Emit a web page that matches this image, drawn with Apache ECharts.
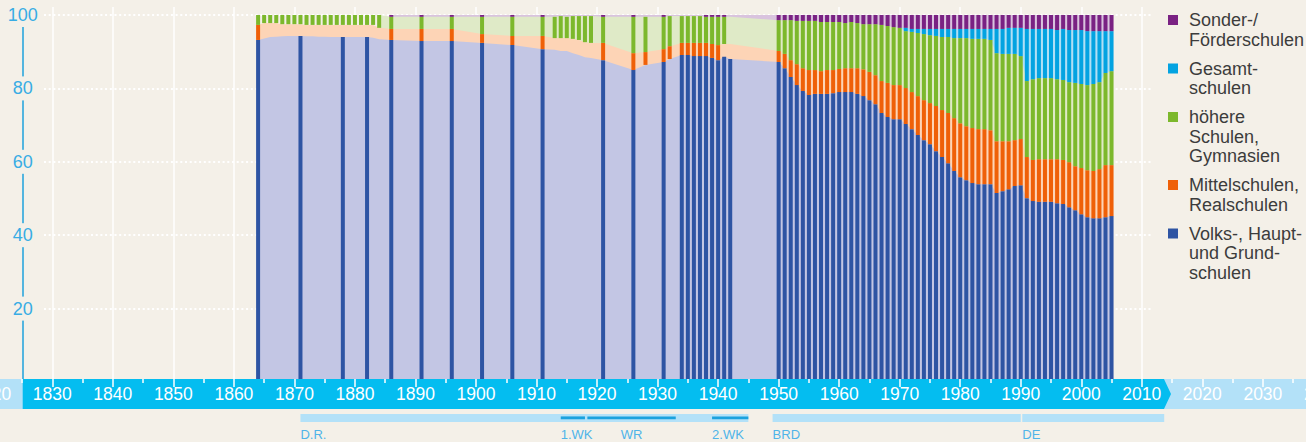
<!DOCTYPE html>
<html lang="de">
<head>
<meta charset="utf-8">
<title>Schüler nach Schularten</title>
<script src="https://cdn.jsdelivr.net/npm/echarts@6.0.0/dist/echarts.min.js"></script>
<style>
html,body{margin:0;padding:0;background:#f4f0e8;overflow:hidden;}
#chart{width:1306px;height:442px;}
</style>
</head>
<body>
<div id="chart"></div>
<script>
// ---------------- data (percent of pupils by school type) ----------------
const annualYears = [1950,1951,1952,1953,1954,1955,1956,1957,1958,1959,1960,1961,1962,1963,1964,1965,1966,1967,1968,1969,
  1970,1971,1972,1973,1974,1975,1976,1977,1978,1979,1980,1981,1982,1983,1984,1985,1986,1987,1988,1989,
  1990,1991,1992,1993,1994,1995,1996,1997,1998,1999,2000,2001,2002,2003,2004,2005];
const earlyYears = [1864,1865,1866,1867,1868,1869,1870,1871,1872,1873,1874,1875,1876,1877,1878,1879,1880,1881,1882,1883,1884,
  1886,1891,1896,1901,1906,1911,
  1913,1914,1915,1916,1917,1918,1919,
  1921,1926,1928,1931,1932,
  1934,1935,1936,1937,1938,1939,1940,1941,1942];
const years = earlyYears.concat(annualYears);

const volks = [
  93.2,93.6,94.0,94.1,94.2,94.3,94.3,94.3,94.2,94.2,94.1,94.1,94.0,94.0,94.0,94.0,94.0,94.0,94.0,93.8,93.4,
  93.2,92.9,92.9,92.4,91.8,90.7,
  90.5,90.2,90.2,89.6,89.1,88.5,88.3,
  87.7,85.0,86.4,87.2,88.0,
  89.1,89.1,88.8,88.8,88.8,88.3,87.7,88.6,88.0,
  87.2,85.5,83.1,80.9,79.3,78.2,78.5,78.5,78.5,78.7,
  79.0,79.0,79.0,78.5,77.9,76.8,75.7,73.3,72.2,71.6,
  71.6,70.3,68.9,67.3,65.9,64.8,62.9,61.3,59.6,57.5,
  55.8,55.0,54.2,53.9,53.9,53.9,51.5,52.0,52.5,53.4,
  53.6,50.1,49.3,49.1,49.1,49.1,48.7,48.5,47.6,46.8,
  45.7,44.9,44.6,44.6,44.9,45.2];
const mittel = [
  4.1,4.2,3.8,3.7,3.3,3.2,3.2,3.2,3.1,3.1,3.2,3.2,3.3,3.3,3.3,3.3,3.3,3.3,3.3,3.5,3.1,
  3.0,3.3,3.3,2.4,2.5,3.6,
  3.2,3.5,3.5,3.9,4.1,4.1,4.1,
  4.7,4.6,3.5,3.5,3.5,
  3.3,3.3,3.6,3.6,3.6,3.8,4.1,3.5,4.1,
  3.0,3.9,4.6,5.7,6.2,6.8,6.5,6.2,6.5,6.3,
  6.3,6.5,6.5,7.0,7.3,7.7,7.9,8.7,9.3,9.3,
  9.3,9.8,10.1,10.6,10.9,11.2,12.3,12.8,13.7,14.4,
  14.7,14.7,15.0,15.0,15.0,14.7,14.1,13.6,13.1,12.5,
  12.6,11.2,11.2,11.6,11.6,11.6,12.0,12.0,12.3,12.0,
  12.6,12.8,12.9,13.4,14.2,13.9];
const hoehere = [
  2.7,2.2,2.2,2.2,2.5,2.5,2.5,2.5,2.7,2.7,2.7,2.7,2.7,2.7,2.7,2.7,2.7,2.7,2.7,2.7,3.5,
  3.3,3.3,3.3,4.7,5.2,5.2,
  5.8,6.0,5.8,6.2,6.5,7.1,7.3,
  7.1,9.9,9.6,8.8,8.2,
  7.3,7.3,7.3,7.3,7.1,7.4,7.7,7.4,7.4,
  8.4,9.2,10.9,11.8,12.9,13.4,13.4,13.4,13.1,13.1,
  12.8,12.3,12.6,12.3,12.3,13.0,13.9,15.3,15.5,15.8,
  15.6,15.5,16.4,17.2,18.0,18.5,19.1,19.9,20.7,21.8,
  23.2,24.0,24.3,24.6,24.6,24.6,24.0,23.8,23.8,23.5,
  22.6,20.7,22.0,22.1,22.1,22.1,21.8,21.8,21.8,22.7,
  22.9,23.2,23.7,23.7,25.1,25.6];
const gesamt = [
  0,0,0,0,0,0,0,0,0,0,0,0,0,0,0,0,0,0,0,0,0,
  0,0,0,0,0,0,
  0,0,0,0,0,0,0,
  0,0,0,0,0,
  0,0,0,0,0,0,0,0,0,
  0,0,0,0,0,0,0,0,0,0,
  0,0,0,0,0,0,0,0,0,0,
  0,0.9,0.8,1.1,1.4,1.7,1.9,2.2,2.2,2.5,
  2.5,2.5,2.7,2.7,2.7,3.0,6.6,6.8,7.1,7.1,
  7.7,14.2,13.7,13.4,13.4,13.4,13.4,13.9,14.2,14.4,
  14.7,14.7,14.4,13.9,11.4,10.9];
const sonder = [
  0,0,0,0,0,0,0,0,0,0,0,0,0,0,0,0,0,0,0,0,0,
  0.5,0.5,0.5,0.5,0.5,0.5,
  0.5,0.3,0.5,0.3,0.3,0.3,0.3,
  0.5,0.5,0.5,0.5,0.3,
  0.3,0.3,0.3,0.3,0.5,0.5,0.5,0.5,0.5,
  1.4,1.4,1.4,1.6,1.6,1.6,1.6,1.9,1.9,1.9,
  1.9,2.2,1.9,2.2,2.5,2.5,2.5,2.7,3.0,3.3,
  3.5,3.5,3.8,3.8,3.8,3.8,3.8,3.8,3.8,3.8,
  3.8,3.8,3.8,3.8,3.8,3.8,3.8,3.8,3.5,3.5,
  3.5,3.8,3.8,3.8,3.8,3.8,4.1,3.8,4.1,4.1,
  4.1,4.4,4.4,4.4,4.4,4.4];

// years for which a survey value exists (drawn as solid bars); other years are estimates
const volksBarYears = [1864,1871,1878,1882,1886,1891,1896,1901,1906,1911,1921,1926,1931,
  1934,1935,1936,1937,1938,1939,1940,1941,1942].concat(annualYears);
const mittelBarYears = [1864,1886,1891,1896,1901,1906,1911,1921,1926,1928,1931,1932,
  1934,1935,1936,1937,1938,1939,1940].concat(annualYears);
const hoehereBarYears = [1864,1865,1866,1867,1868,1869,1870,1871,1872,1873,1874,1875,1876,1877,1878,1879,1880,1881,1882,1883,1884,
  1886,1891,1896,1901,1906,1911,1913,1914,1915,1916,1917,1918,1919,1921,1926,1928,1931,1932,
  1934,1935,1936,1937,1938,1939,1940,1941].concat(annualYears);
const gesamtBarYears = [1971,1972,1973,1974,1975,1976,1977,1978,1979,1980,1981,1982,1983,1984,1985,1986,1987,1988,1989,
  1990,1991,1992,1993,1994,1995,1996,1997,1998,1999,2000,2001,2002,2003,2004,2005];
const sonderBarYears = [1886,1891,1896,1901,1906,1911,1921,1926,1931,1938,1939,1940,1941].concat(annualYears);

// first year of the shaded estimate area per school type
const estimateStart = [1864, 1864, 1884, 1970, 1886];

// historical periods under the time axis
const periodNames = ['D.R.', '1.WK', 'WR', '2.WK', 'BRD', 'DE'];
const periodStart = [1871, 1914, 1918.4, 1939, 1949, 1990.25];
const periodEnd   = [1945, 1918, 1933, 1945, 1990, 2013.7];
const periodKind  = ['state', 'war', 'war', 'war', 'state', 'state'];
const periodAlign = ['left', 'left', 'center', 'left', 'left', 'left'];

const legendLabels = ['Volks-, Haupt-\nund Grund-\nschulen', 'Mittelschulen,\nRealschulen',
  'höhere\nSchulen,\nGymnasien', 'Gesamt-\nschulen', 'Sonder-/\nFörderschulen'];

// ---------------- styling ----------------
const cats = [
  {name: 'Volks-, Haupt- und Grundschulen', values: volks,   bars: volksBarYears,   color: '#2e54a3', pale: '#c3c6e4'},
  {name: 'Mittelschulen, Realschulen',      values: mittel,  bars: mittelBarYears,  color: '#ef6008', pale: '#fdd4b6'},
  {name: 'höhere Schulen, Gymnasien',       values: hoehere, bars: hoehereBarYears, color: '#7cb82c', pale: '#dfeac7'},
  {name: 'Gesamtschulen',                   values: gesamt,  bars: gesamtBarYears,  color: '#03a3e1', pale: '#b1dff5'},
  {name: 'Sonder-/Förderschulen',           values: sonder,  bars: sonderBarYears,  color: '#7a2283', pale: '#d9c3de'}
];
const BG = '#f4f0e8';
const FONT = '"Liberation Sans", Arial, Helvetica, sans-serif';

// cumulative bounds (stack) per category and year
const bounds = cats.map(() => []);
years.forEach((y, i) => {
  let s = 0;
  cats.forEach((c, k) => { const lo = s; s += c.values[i]; bounds[k].push([lo, s]); });
});

const series = [];
// shaded estimate areas, painted from the top category down
for (let k = cats.length - 1; k >= 0; k--) {
  const data = [];
  years.forEach((y, i) => { if (y >= estimateStart[k]) data.push([y, bounds[k][i][1]]); });
  series.push({
    type: 'line', name: cats[k].name + ' (Schätzung)', xAxisIndex: 0, yAxisIndex: 0,
    data, symbol: 'none', silent: true, z: 1,
    lineStyle: {width: 0, opacity: 0},
    areaStyle: {color: cats[k].pale, opacity: 1}
  });
}
// solid bars for surveyed years
function barItem(params, api) {
  const x = api.value(0);
  const lo = api.coord([x, api.value(1)]);
  const hi = api.coord([x, api.value(2)]);
  const w = 4;
  return {type: 'rect', shape: {x: lo[0] - w / 2, y: hi[1], width: w, height: lo[1] - hi[1]},
          style: {fill: api.visual('color')}};
}
cats.forEach((c, k) => {
  const data = c.bars.map(y => { const i = years.indexOf(y); return [y, bounds[k][i][0], bounds[k][i][1]]; });
  series.push({
    type: 'custom', name: c.name, xAxisIndex: 0, yAxisIndex: 0, z: 2,
    renderItem: barItem, data, encode: {x: 0, y: [1, 2]},
    itemStyle: {color: c.color}, silent: true
  });
});
// periods
function periodItem(params, api) {
  const i = params.dataIndex;
  const s = api.value(0), e = api.value(1);
  const x0 = api.coord([s, 1])[0], x1 = api.coord([e, 1])[0];
  const yT = api.coord([s, 1])[1], yB = api.coord([s, 0])[1];
  const h = yB - yT;
  const kids = [];
  if (periodKind[i] === 'war') {
    kids.push({type: 'rect', shape: {x: x0, y: yT + h * 0.3, width: x1 - x0, height: h * 0.36}, style: {fill: '#1ba2de'}});
  } else {
    kids.push({type: 'rect', shape: {x: x0, y: yT, width: x1 - x0, height: h}, style: {fill: '#b3e1f8'}});
  }
  const al = periodAlign[i];
  kids.push({type: 'text', style: {text: periodNames[i], x: al === 'center' ? (x0 + x1) / 2 : x0, y: yB + 12.5,
    align: al, verticalAlign: 'middle', fill: '#4fb4e8', fontSize: 13, fontFamily: FONT}});
  return {type: 'group', children: kids};
}
series.push({
  type: 'custom', name: 'Zeitraum', xAxisIndex: 4, yAxisIndex: 4, z: 3, clip: false, silent: true,
  renderItem: periodItem, data: periodStart.map((s, i) => [s, periodEnd[i]]), encode: {x: [0, 1]}
});

// legend and time band (graphic)
const elements = [
  {type: 'rect', z: 50, shape: {x: 0, y: 379, width: 1306, height: 30}, style: {fill: '#b3e1f8'}},
  {type: 'polygon', z: 50, shape: {points: [[22.7, 379], [1164, 379], [1171, 394], [1164, 409], [22.7, 409]]}, style: {fill: '#04bdf0'}}
];
let cy = 20;
const LH = 19.5;
for (let k = cats.length - 1; k >= 0; k--) {
  const nLines = legendLabels[k].split('\n').length;
  elements.push({type: 'rect', z: 50, shape: {x: 1168, y: cy - 5, width: 10, height: 10}, style: {fill: cats[k].color}});
  elements.push({type: 'text', z: 50, x: 1189, y: cy - LH / 2,
    style: {text: legendLabels[k], fill: '#3c3c3c', fontSize: 18, fontFamily: FONT, lineHeight: LH, verticalAlign: 'top', align: 'left'}});
  cy += nLines * LH + 9.5;
}

const L = -8.23, R = -17.4;
const gridBase = {containLabel: false, outerBoundsMode: 'none'};
const option = {
  backgroundColor: BG,
  animation: false,
  textStyle: {fontFamily: FONT},
  grid: [
    Object.assign({left: L, right: R, top: 15, bottom: 60}, gridBase),     // 0 plot
    Object.assign({left: L, right: 164.2, top: 7, bottom: 63}, gridBase),  // 1 vertical decade lines
    Object.assign({left: 44, right: 153, top: 15, bottom: 60}, gridBase),  // 2 dotted lines
    Object.assign({left: L, right: R, top: 7, bottom: 63}, gridBase),      // 3 time band axis
    Object.assign({left: L, right: R, top: 414, bottom: 20}, gridBase),    // 4 periods
    Object.assign({left: 22.7, right: 153, top: 15, bottom: 60}, gridBase) // 5 y axis
  ],
  xAxis: [
    {gridIndex: 0, type: 'value', min: 1820, max: 2040, show: false},
    {gridIndex: 1, type: 'value', min: 1820, max: 2010, interval: 10,
      axisLine: {show: false}, axisTick: {show: false}, axisLabel: {show: false},
      splitLine: {show: true, lineStyle: {color: '#ffffff', width: 1.5}}},
    {gridIndex: 2, type: 'value', min: 0, max: 1, show: false},
    {gridIndex: 3, type: 'value', min: 1820, max: 2040, interval: 10, z: 60,
      axisLine: {show: false},
      axisTick: {show: true, length: 8, lineStyle: {color: '#ffffff', width: 1.5}},
      minorTick: {show: true, splitNumber: 2, length: 4, lineStyle: {color: '#ffffff', width: 1.5}},
      splitLine: {show: false}, minorSplitLine: {show: false},
      axisLabel: {show: true, color: '#ffffff', fontSize: 17.5, margin: 15, verticalAlign: 'middle',
        showMinLabel: true, showMaxLabel: true, hideOverlap: false, fontFamily: FONT,
        formatter: v => String(v)}},
    {gridIndex: 4, type: 'value', min: 1820, max: 2040, show: false},
    {gridIndex: 5, type: 'value', min: 0, max: 1, show: false}
  ],
  yAxis: [
    {gridIndex: 0, type: 'value', min: 0, max: 100, show: false},
    {gridIndex: 1, type: 'value', min: 0, max: 1, show: false},
    {gridIndex: 2, type: 'value', min: 0, max: 100, interval: 20,
      axisLine: {show: false}, axisTick: {show: false}, axisLabel: {show: false},
      splitLine: {show: true, lineStyle: {color: '#ffffff', width: 2, type: [2, 2.7]}}},
    {gridIndex: 3, type: 'value', min: 0, max: 1, show: false},
    {gridIndex: 4, type: 'value', min: 0, max: 1, show: false},
    {gridIndex: 5, type: 'value', min: 0, max: 100, interval: 20, position: 'left',
      axisLine: {show: true, onZero: false, lineStyle: {color: '#1ea2dd', width: 1.5}},
      axisTick: {show: false}, splitLine: {show: false},
      axisLabel: {show: true, color: '#38ace4', fontSize: 18, margin: 0, align: 'center',
        backgroundColor: BG, padding: [3, 2], fontFamily: FONT,
        formatter: v => (v === 0 ? '' : String(v))}}
  ],
  graphic: {elements},
  series
};

const chart = echarts.init(document.getElementById('chart'), null, {renderer: 'svg'});
chart.setOption(option);
</script>
</body>
</html>
